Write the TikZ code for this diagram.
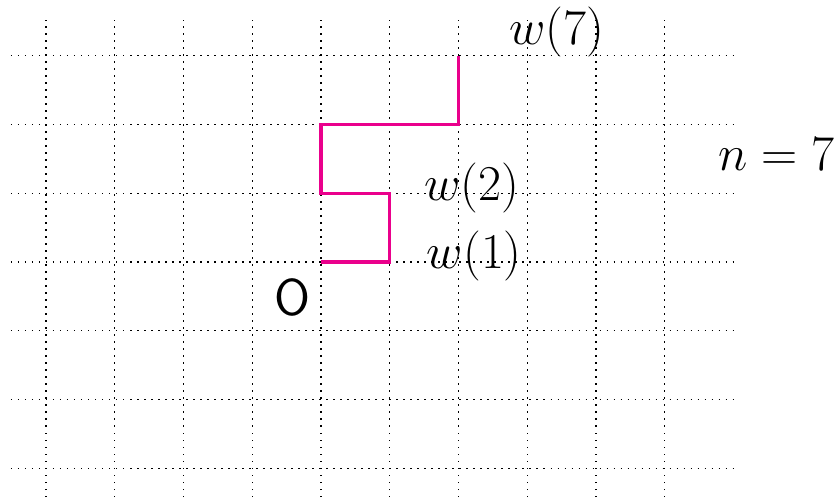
\documentclass[tikz,border=0pt]{standalone}
\definecolor{walk}{RGB}{234,0,140}
\tikzset{
  gridline/.style={line width=0.6pt, dash pattern=on 0.6pt off 2.3pt},
  walkline/.style={walk, line width=1.3pt},
  lab/.style={inner sep=0pt, font=\fontsize{21}{24}\selectfont}
}
\begin{document}
\begin{tikzpicture}
\useasboundingbox (-4.669,-3.418) rectangle (7.476,3.811);
\foreach \y in {-3,...,3} \draw[gridline] (-4.51,\y) -- (6.02,\y);
\foreach \x in {-4,...,5} \draw[gridline] (\x,-3.418) -- (\x,3.52);
\coordinate (p0) at (0,0);
\coordinate (p1) at (1,0);
\coordinate (p2) at (1,1);
\coordinate (p3) at (0,1);
\coordinate (p4) at (0,2);
\coordinate (p6) at (2,2);
\coordinate (p7) at (2,3);
\draw[walkline] (p0) -- (p1) -- (p2) -- (p3) -- (p4) -- (p6) -- (p7);
\node[lab] (w7) at (3.43,3.345) {$w(7)$};
\node[lab] (w2) at (2.19,1.07) {$w(2)$};
\node[lab] (w1) at (2.23,0.095) {$w(1)$};
\node[lab] (n) at (6.62,1.564) {$n=7$};
\node[lab, font=\fontsize{21.5}{24}\selectfont\sffamily] (O) at (-0.415,-0.509) {O};
\end{tikzpicture}
\end{document}
